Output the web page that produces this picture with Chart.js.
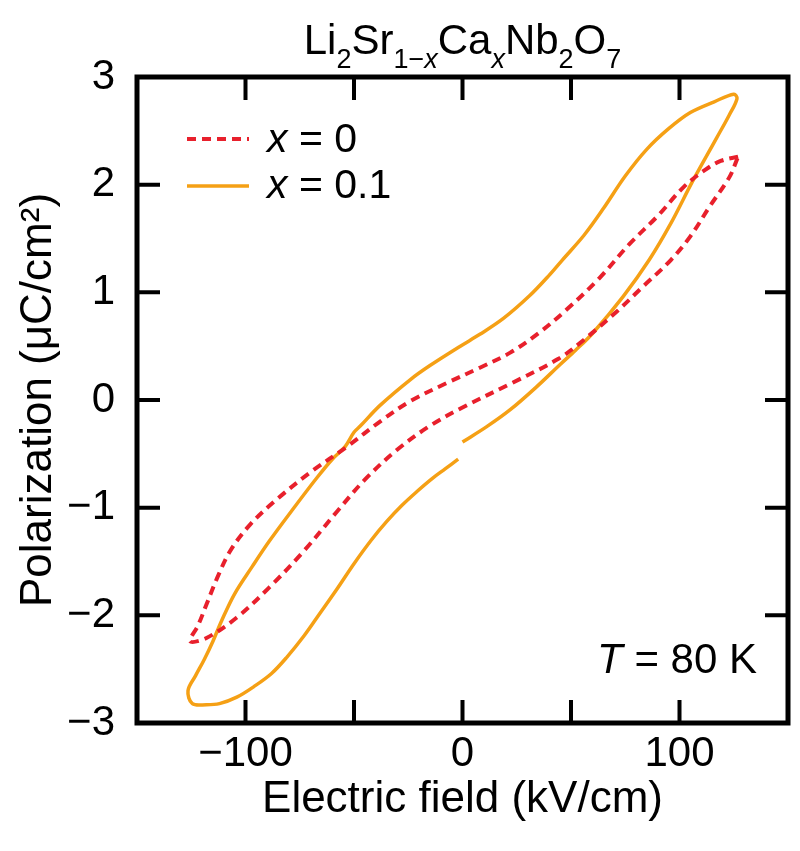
<!DOCTYPE html>
<html>
<head>
<meta charset="utf-8">
<script src="https://cdn.jsdelivr.net/npm/chart.js@4/dist/chart.umd.min.js"></script>
<style>
  html, body { margin: 0; padding: 0; background: #fff; }
</style>
</head>
<body>
<canvas id="chart" width="800" height="851"></canvas>
<script>
const FONT = '"Liberation Sans", Arial, Helvetica, sans-serif';

// x = 0 loop: upper branch (right tip -> left tip), then lower branch back
const fieldX0 = [127, 119, 112, 102, 90, 77, 63, 48, 35, 22, 8, -7, -24, -38, -53, -70, -86, -98, -107, -113, -118, -122, -125.6,
  -118, -104, -89, -73, -58, -45, -30, -15, 0, 22, 44, 56, 71, 83, 96, 105, 114, 123, 127];
const polX0 = [2.26, 2.22, 2.14, 1.98, 1.71, 1.45, 1.13, 0.84, 0.62, 0.44, 0.30, 0.16, -0.01, -0.20, -0.43, -0.67, -0.93, -1.16, -1.40, -1.65, -1.90, -2.10, -2.24,
  -2.21, -2.02, -1.74, -1.40, -1.04, -0.74, -0.46, -0.24, -0.07, 0.15, 0.38, 0.56, 0.82, 1.05, 1.30, 1.52, 1.80, 2.07, 2.26];

// x = 0.1 loop: starts near E = 0, ends just short of it (gap in the trace)
const fieldX01 = [0, 11, 22, 34, 45, 52, 60, 74, 86, 96, 106, 117, 123, 126.5, 125,
  116, 105, 95, 85, 75, 65, 56, 46, 40, 31, 19, 8, -1, -15, -24, -38, -47, -50, -54, -60, -67, -78, -89, -97, -105, -111, -115, -119, -123, -126.5, -124.5,
  -118, -112, -104, -96, -88, -81, -73, -66, -58, -50, -42, -35, -28, -21, -14, -8, -2];
const polX01 = [-0.39, -0.25, -0.09, 0.12, 0.33, 0.46, 0.62, 0.96, 1.30, 1.64, 2.03, 2.43, 2.65, 2.80, 2.84,
  2.77, 2.67, 2.52, 2.33, 2.08, 1.78, 1.53, 1.30, 1.16, 0.97, 0.76, 0.61, 0.50, 0.32, 0.19, -0.05, -0.24, -0.30, -0.43, -0.55, -0.72, -1.01, -1.31, -1.55, -1.80, -2.05, -2.24, -2.41, -2.56, -2.70, -2.82,
  -2.83, -2.82, -2.76, -2.66, -2.54, -2.39, -2.19, -1.99, -1.76, -1.52, -1.30, -1.13, -0.98, -0.85, -0.73, -0.64, -0.55];

const xTickValues = [-100, 0, 100];
const xTickMarks = [-100, -50, 0, 50, 100];
const yTickValues = [-3, -2, -1, 0, 1, 2, 3];

const toPoints = (xs, ys) => xs.map((v, i) => ({ x: v, y: ys[i] }));

// draw a run of text pieces with their own size / style / baseline shift
function drawRich(ctx, parts, x, y, align) {
  const fontOf = p => (p.italic ? 'italic ' : '') + p.size + 'px ' + FONT;
  let total = 0;
  parts.forEach(p => { ctx.font = fontOf(p); total += ctx.measureText(p.t).width; });
  let cx = align === 'center' ? x - total / 2 : align === 'right' ? x - total : x;
  ctx.textAlign = 'left';
  ctx.textBaseline = 'alphabetic';
  parts.forEach(p => {
    ctx.font = fontOf(p);
    ctx.fillText(p.t, cx, y + (p.dy || 0));
    cx += ctx.measureText(p.t).width;
  });
}

const decor = {
  id: 'decor',
  afterDraw(chart) {
    const { ctx, chartArea: a, scales: { x, y } } = chart;
    ctx.save();
    ctx.strokeStyle = '#000';
    ctx.lineWidth = 4;
    ctx.beginPath();
    xTickMarks.forEach(v => {
      const px = x.getPixelForValue(v);
      ctx.moveTo(px, a.top); ctx.lineTo(px, a.top + 23);
      ctx.moveTo(px, a.bottom); ctx.lineTo(px, a.bottom - 23);
    });
    yTickValues.forEach(v => {
      const py = y.getPixelForValue(v);
      ctx.moveTo(a.left, py); ctx.lineTo(a.left + 23, py);
      ctx.moveTo(a.right, py); ctx.lineTo(a.right - 23, py);
    });
    ctx.stroke();
    ctx.lineWidth = 5;
    ctx.strokeRect(a.left, a.top, a.right - a.left, a.bottom - a.top);

    ctx.fillStyle = '#000';
    // title with subscripts
    const m = 42, s = 27, d = 14;
    drawRich(ctx, [
      { t: 'Li', size: m }, { t: '2', size: s, dy: d },
      { t: 'Sr', size: m }, { t: '1\u2212', size: s, dy: d }, { t: 'x', size: s, dy: d, italic: true },
      { t: 'Ca', size: m }, { t: 'x', size: s, dy: d, italic: true },
      { t: 'Nb', size: m }, { t: '2', size: s, dy: d },
      { t: 'O', size: m }, { t: '7', size: s, dy: d }
    ], (a.left + a.right) / 2, 54, 'center');

    // legend
    const legend = [
      { label: '0', color: '#e8202c', dash: [9, 6], width: 4, y: 139, base: 152 },
      { label: '0.1', color: '#f5a015', dash: [], width: 3.5, y: 186, base: 198 }
    ];
    legend.forEach(l => {
      ctx.save();
      ctx.strokeStyle = l.color;
      ctx.lineWidth = l.width;
      ctx.setLineDash(l.dash);
      ctx.beginPath();
      ctx.moveTo(187, l.y); ctx.lineTo(249, l.y);
      ctx.stroke();
      ctx.restore();
      drawRich(ctx, [{ t: 'x', size: 41, italic: true }, { t: ' = ' + l.label, size: 41 }], 267, l.base, 'left');
    });

    // temperature note
    drawRich(ctx, [{ t: 'T', size: 42, italic: true }, { t: ' = 80 K', size: 42 }], 757, 673, 'right');
    ctx.restore();
  }
};

const minus = v => String(v).replace('-', '\u2212');

new Chart(document.getElementById('chart').getContext('2d'), {
  type: 'scatter',
  data: {
    datasets: [
      {
        label: 'x = 0',
        data: toPoints(fieldX0, polX0),
        showLine: true,
        borderColor: '#e8202c',
        borderWidth: 4,
        borderDash: [9, 6],
        pointRadius: 0,
        tension: 0.35
      },
      {
        label: 'x = 0.1',
        data: toPoints(fieldX01, polX01),
        showLine: true,
        borderColor: '#f5a015',
        borderWidth: 3.5,
        pointRadius: 0,
        tension: 0.35
      }
    ]
  },
  options: {
    responsive: false,
    animation: false,
    devicePixelRatio: 1,
    layout: { padding: { top: 77, right: 12, left: 0, bottom: 0 } },
    plugins: {
      legend: { display: false },
      tooltip: { enabled: false }
    },
    scales: {
      x: {
        type: 'linear',
        min: -150,
        max: 150,
        afterFit: s => { s.height = 128; },
        afterBuildTicks: s => { s.ticks = xTickValues.map(v => ({ value: v })); },
        grid: { display: false, drawTicks: false },
        border: { display: false },
        ticks: {
          padding: 6,
          color: '#000',
          font: { family: FONT, size: 42 },
          callback: v => minus(v)
        },
        title: {
          display: true,
          text: 'Electric field (kV/cm)',
          color: '#000',
          font: { family: FONT, size: 44, lineHeight: 1 },
          padding: { top: 0, bottom: 29 }
        }
      },
      y: {
        type: 'linear',
        min: -3,
        max: 3,
        afterFit: s => { s.width = 137; },
        afterBuildTicks: s => { s.ticks = yTickValues.map(v => ({ value: v })); },
        grid: { display: false, drawTicks: false },
        border: { display: false },
        ticks: {
          padding: 22,
          color: '#000',
          font: { family: FONT, size: 42 },
          callback: v => minus(v)
        },
        title: {
          display: true,
          text: 'Polarization (\u03bcC/cm\u00b2)',
          color: '#000',
          font: { family: FONT, size: 44, lineHeight: 1 },
          padding: { top: 17, bottom: 0 }
        }
      }
    }
  },
  plugins: [decor]
});
</script>
</body>
</html>
